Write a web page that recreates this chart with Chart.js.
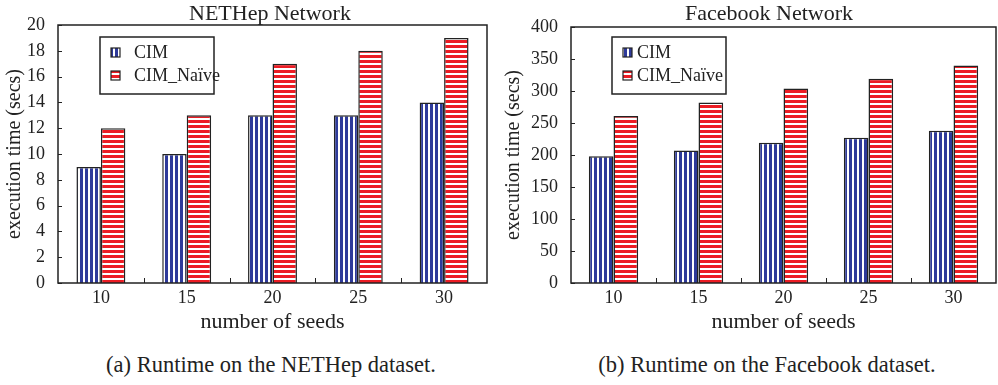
<!DOCTYPE html>
<html>
<head>
<meta charset="utf-8">
<script src="https://cdn.jsdelivr.net/npm/chart.js@4.4.1/dist/chart.umd.min.js"></script>
<style>
  body { margin: 0; background: #fff; }
  #wrap { position: relative; width: 998px; height: 385px; font-family: "Liberation Serif", serif; color: #222; }
  .box { position: absolute; top: 0; width: 499px; height: 345px; }
  .ttl { position: absolute; top: 0px; font-size: 22px; white-space: nowrap; transform: translateX(-50%); }
  .cap { position: absolute; top: 352px; font-size: 22.5px; white-space: nowrap; transform: translateX(-50%); }
</style>
</head>
<body>
<div id="wrap">
  <div class="box" style="left:0"><canvas id="netChart"></canvas></div>
  <div class="box" style="left:499px"><canvas id="fbChart"></canvas></div>
  <div class="ttl" style="left:270px">NETHep Network</div>
  <div class="ttl" style="left:769px">Facebook Network</div>
  <div class="cap" style="left:271px">(a) Runtime on the NETHep dataset.</div>
  <div class="cap" style="left:767px">(b) Runtime on the Facebook dataset.</div>
</div>
<script>
// data
var seeds = ["10", "15", "20", "25", "30"];
var nethepCIM = [9, 10, 13, 13, 14];
var nethepNaive = [12, 13, 17, 18, 19];
var facebookCIM = [198, 207, 219, 227, 238];
var facebookNaive = [261, 282, 304, 319, 340];
var seriesNames = ["CIM", "CIM_Naïve"];

var FONT = "'Liberation Serif', serif";
var INK = "#222";

// striped fills
function stripes(vertical, color) {
    var c = document.createElement("canvas");
    c.width = 5; c.height = 5;
    var g = c.getContext("2d");
    g.fillStyle = "#fff";
    g.fillRect(0, 0, 5, 5);
    g.fillStyle = color;
    if (vertical) g.fillRect(0, 0, 3, 5);
    else g.fillRect(0, 0, 5, 3);
    return g.createPattern(c, "repeat");
}
var blueFill = stripes(true, "#2e3a9a");
var redFill = stripes(false, "#ec1c24");

// frame, inward ticks and boxed legend
var framePlugin = {
    id: "frame",
    afterDraw: function (chart, args, opts) {
        var ctx = chart.ctx, a = chart.chartArea;
        var x = chart.scales.x, y = chart.scales.y;
        ctx.save();
        ctx.strokeStyle = INK;
        ctx.lineWidth = 1.5;
        ctx.strokeRect(a.left, a.top, a.right - a.left, a.bottom - a.top);
        ctx.lineWidth = 1;
        ctx.beginPath();
        y.ticks.forEach(function (t, i) {
            var py = Math.round(y.getPixelForTick(i)) + 0.5;
            ctx.moveTo(a.left, py);
            ctx.lineTo(a.left + 4, py);
        });
        for (var i = 1; i < x.ticks.length; i++) {
            var px = Math.round((x.getPixelForTick(i - 1) + x.getPixelForTick(i)) / 2) + 0.5;
            ctx.moveTo(px, a.bottom);
            ctx.lineTo(px, a.bottom - 5);
        }
        ctx.stroke();

        // legend
        var lx = a.left + opts.dx, ly = a.top + opts.dy;
        ctx.lineWidth = 1.5;
        ctx.strokeRect(lx, ly, 114, 57);
        ctx.font = "18px " + FONT;
        ctx.textBaseline = "middle";
        chart.data.datasets.forEach(function (ds, k) {
            var sy = ly + 11 + k * 23;
            ctx.fillStyle = ds.backgroundColor;
            ctx.fillRect(lx + opts.sx, sy, 9, 9);
            ctx.strokeStyle = INK;
            ctx.lineWidth = 1.2;
            ctx.strokeRect(lx + opts.sx, sy, 9, 9);
            ctx.fillStyle = INK;
            ctx.fillText(ds.label, lx + opts.tx, sy + 5);
        });
        ctx.restore();
    }
};

function makeChart(id, cim, naive, yMax, yStep, yWidth, xHeight, pad, legendPos, catPct) {
    var ctx = document.getElementById(id);
    return new Chart(ctx, {
        type: "bar",
        data: {
            labels: seeds,
            datasets: [
                { label: seriesNames[0], data: cim, backgroundColor: blueFill, borderColor: INK, borderWidth: 1.5 },
                { label: seriesNames[1], data: naive, backgroundColor: redFill, borderColor: INK, borderWidth: 1.5 }
            ]
        },
        options: {
            responsive: false,
            animation: false,
            layout: { padding: pad },
            datasets: { bar: { categoryPercentage: catPct, barPercentage: 1.0 } },
            plugins: {
                legend: { display: false },
                tooltip: { enabled: false },
                frame: legendPos
            },
            scales: {
                x: {
                    grid: { display: false, drawTicks: false, tickLength: 0 },
                    border: { display: false },
                    ticks: { color: INK, font: { family: FONT, size: 18 }, padding: 4, maxRotation: 0 },
                    title: { display: true, text: "number of seeds", color: INK, font: { family: FONT, size: 22 }, padding: { top: 0, bottom: 10 } },
                    afterFit: function (s) { s.height = xHeight; }
                },
                y: {
                    min: 0,
                    max: yMax,
                    grid: { display: false, drawTicks: false, tickLength: 0 },
                    border: { display: false },
                    ticks: { stepSize: yStep, color: INK, font: { family: FONT, size: 18 }, padding: 13 },
                    title: { display: true, text: "execution time (secs)", color: INK, font: { family: FONT, size: 20 }, padding: { top: 3, bottom: 0 } },
                    afterFit: function (s) { s.width = yWidth; }
                }
            }
        },
        plugins: [framePlugin]
    });
}

var setCanvas = function (id) {
    var c = document.getElementById(id);
    c.width = 499; c.height = 345;
    c.style.width = "499px"; c.style.height = "345px";
};

function drawAll() {
    setCanvas("netChart");
    setCanvas("fbChart");
    makeChart("netChart", nethepCIM, nethepNaive, 20, 2, 58, 62,
        { left: 0, right: 12, top: 25, bottom: 0 },
        { dx: 42, dy: 12, sx: 11, tx: 34 }, 0.57);
    makeChart("fbChart", facebookCIM, facebookNaive, 400, 50, 72, 62,
        { left: 0, right: 2, top: 27, bottom: 0 },
        { dx: 41, dy: 10, sx: 11, tx: 25 }, 0.58);
}

// make sure the serif face is ready before the canvases use it
document.fonts.load("18px 'Liberation Serif'").then(drawAll, drawAll);
</script>
</body>
</html>
